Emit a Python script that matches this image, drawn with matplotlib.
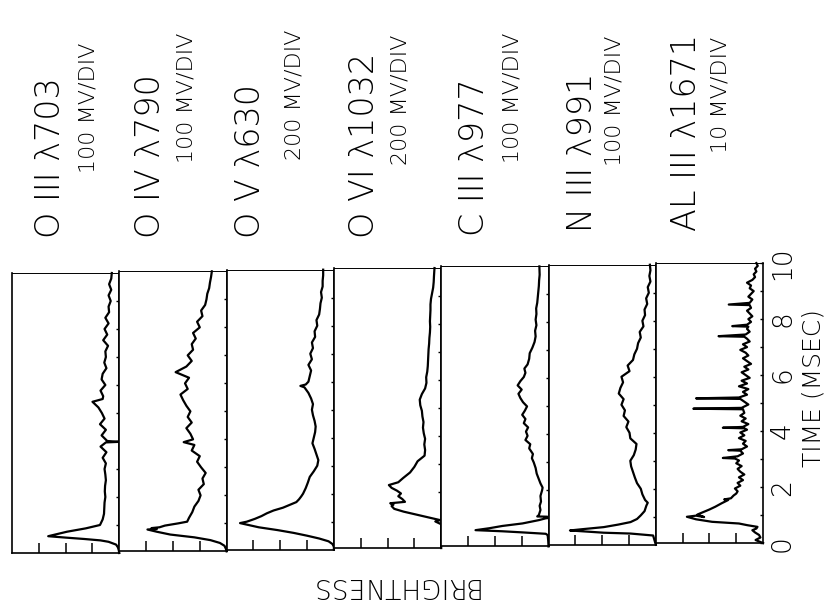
import matplotlib.pyplot as plt

W, H = 827, 608

# traces: (time in ms, brightness in divisions)
o3_703 = [(0, 0), (0.1, 0.02), (0.2, 0.05), (0.3, 0.12), (0.4, 0.4), (0.45, 0.7),
          (0.5, 1.3), (0.55, 2.0), (0.6, 2.65), (0.68, 2.3), (0.76, 1.95), (0.88, 1.25),
          (1.0, 0.72), (1.2, 0.62), (1.4, 0.57), (1.6, 0.56), (1.8, 0.55), (2.0, 0.52),
          (2.2, 0.54), (2.4, 0.53), (2.6, 0.5), (2.8, 0.52), (3.0, 0.55), (3.2, 0.5),
          (3.4, 0.62), (3.6, 0.48), (3.8, 0.7), (3.95, 0.5), (3.97, 0.0), (4.0, 0.45),
          (4.2, 0.66), (4.4, 0.5), (4.6, 0.72), (4.8, 0.55), (5.0, 0.65), (5.2, 0.78),
          (5.4, 1.0), (5.5, 0.62), (5.6, 0.6), (5.8, 0.7), (6.0, 0.52), (6.2, 0.66),
          (6.4, 0.62), (6.6, 0.48), (6.8, 0.56), (7.0, 0.5), (7.2, 0.52), (7.4, 0.42),
          (7.6, 0.6), (7.8, 0.45), (8.0, 0.55), (8.2, 0.4), (8.4, 0.52), (8.6, 0.38),
          (8.8, 0.4), (9.0, 0.32), (9.2, 0.4), (9.4, 0.3), (9.6, 0.38), (9.8, 0.3),
          (10.0, 0.28)]

o4_790 = [(0, 0), (0.1, 0.03), (0.2, 0.08), (0.3, 0.25), (0.4, 0.6), (0.5, 1.2),
          (0.6, 2.1), (0.7, 2.6), (0.78, 2.95), (0.8, 2.6), (0.83, 2.8), (0.86, 2.5),
          (0.92, 2.3), (1.0, 1.8), (1.06, 1.47), (1.2, 1.4), (1.4, 1.28), (1.6, 1.2),
          (1.8, 1.05), (2.0, 0.97), (2.2, 1.05), (2.4, 0.85), (2.6, 0.9), (2.8, 0.78),
          (3.0, 0.95), (3.2, 1.1), (3.4, 1.0), (3.6, 1.3), (3.8, 1.2), (3.9, 1.6),
          (4.0, 1.25), (4.2, 1.35), (4.4, 1.5), (4.6, 1.3), (4.8, 1.45), (5.0, 1.35),
          (5.2, 1.5), (5.4, 1.62), (5.6, 1.72), (5.8, 1.45), (6.0, 1.55), (6.2, 1.4),
          (6.4, 1.9), (6.6, 1.5), (6.8, 1.3), (7.0, 1.45), (7.2, 1.25), (7.4, 1.3),
          (7.6, 1.15), (7.8, 1.25), (8.0, 1.0), (8.2, 1.1), (8.4, 0.9), (8.6, 0.95),
          (8.8, 0.8), (9.0, 0.75), (9.2, 0.72), (9.4, 0.65), (9.6, 0.62), (9.8, 0.58),
          (10.0, 0.55)]

o5_630 = [(0, 0), (0.1, 0.0), (0.2, 0.05), (0.3, 0.2), (0.4, 0.55), (0.5, 1.0),
          (0.6, 1.5), (0.7, 2.1), (0.8, 2.8), (0.95, 3.5), (1.0, 3.25), (1.1, 2.95),
          (1.2, 2.7), (1.3, 2.5), (1.4, 2.25), (1.5, 1.9), (1.6, 1.65), (1.7, 1.4),
          (1.8, 1.3), (1.9, 1.22), (2.0, 1.15), (2.2, 1.05), (2.4, 0.97), (2.6, 0.9),
          (2.8, 0.75), (3.0, 0.62), (3.2, 0.58), (3.4, 0.65), (3.6, 0.72), (3.8, 0.8),
          (4.0, 0.75), (4.2, 0.7), (4.4, 0.68), (4.6, 0.72), (4.8, 0.78), (5.0, 0.82),
          (5.2, 0.78), (5.4, 0.85), (5.6, 0.95), (5.8, 1.1), (5.85, 1.25), (5.9, 1.05),
          (6.0, 0.95), (6.2, 0.9), (6.4, 0.85), (6.6, 0.95), (6.8, 0.82), (7.0, 0.88),
          (7.2, 0.78), (7.4, 0.82), (7.6, 0.7), (7.8, 0.72), (8.0, 0.62), (8.2, 0.65),
          (8.4, 0.55), (8.6, 0.52), (8.8, 0.5), (9.0, 0.45), (9.2, 0.48), (9.4, 0.42),
          (9.6, 0.42), (9.8, 0.4), (10.0, 0.4)]

o6_1032 = [(0, 0), (0.5, 0), (0.85, 0), (0.95, 0.22), (1.0, 0.05), (1.1, 0.5),
           (1.2, 0.95), (1.3, 1.4), (1.4, 1.75), (1.5, 1.85), (1.55, 1.78), (1.6, 1.9),
           (1.65, 1.35), (1.75, 1.45), (1.85, 1.6), (1.95, 1.5), (2.05, 1.65), (2.15, 1.85),
           (2.25, 1.95), (2.35, 1.6), (2.5, 1.42), (2.7, 1.16), (2.9, 1.0), (3.1, 0.88),
           (3.3, 0.62), (3.5, 0.6), (3.7, 0.63), (3.9, 0.6), (4.1, 0.65), (4.3, 0.68),
           (4.5, 0.66), (4.7, 0.7), (4.9, 0.72), (5.1, 0.78), (5.3, 0.8), (5.5, 0.72),
           (5.7, 0.6), (5.9, 0.55), (6.1, 0.56), (6.3, 0.52), (6.5, 0.5), (6.7, 0.49),
           (6.9, 0.48), (7.1, 0.47), (7.3, 0.45), (7.5, 0.44), (7.7, 0.42), (7.9, 0.41),
           (8.1, 0.42), (8.3, 0.41), (8.5, 0.4), (8.7, 0.4), (8.9, 0.38), (9.1, 0.34),
           (9.3, 0.3), (9.5, 0.28), (9.7, 0.27), (10.0, 0.25)]

c3_977 = [(0, 0), (0.2, 0.01), (0.4, 0.03), (0.45, 0.1), (0.5, 0.97), (0.54, 1.72),
          (0.58, 2.72), (0.65, 2.2), (0.73, 1.72), (0.82, 0.97), (0.94, 0.35), (1.02, 0.04),
          (1.06, 0.04), (1.07, 0.42), (1.12, 0.36), (1.3, 0.3), (1.45, 0.33), (1.6, 0.28),
          (1.8, 0.3), (2.0, 0.24), (2.1, 0.22), (2.25, 0.3), (2.4, 0.36), (2.6, 0.44),
          (2.8, 0.48), (3.0, 0.55), (3.15, 0.62), (3.3, 0.58), (3.5, 0.72), (3.65, 0.68),
          (3.8, 0.86), (3.95, 0.78), (4.1, 0.84), (4.25, 0.76), (4.4, 0.92), (4.55, 0.86),
          (4.7, 0.98), (4.85, 0.88), (5.0, 0.8), (5.15, 0.95), (5.3, 1.05), (5.45, 1.12),
          (5.6, 1.0), (5.75, 1.15), (5.9, 1.05), (6.05, 0.92), (6.2, 0.86), (6.35, 0.9),
          (6.5, 0.78), (6.7, 0.72), (6.9, 0.7), (7.1, 0.6), (7.3, 0.52), (7.5, 0.48),
          (7.7, 0.5), (7.9, 0.45), (8.1, 0.48), (8.3, 0.45), (8.5, 0.46), (8.7, 0.42),
          (8.9, 0.4), (9.1, 0.38), (9.3, 0.36), (9.5, 0.35), (9.7, 0.33), (10.0, 0.34)]

n3_991 = [(0, 0), (0.1, 0.03), (0.2, 0.06), (0.33, 0.1), (0.4, 0.94), (0.43, 1.94),
          (0.51, 3.2), (0.55, 2.8), (0.63, 1.94), (0.72, 1.4), (0.81, 0.94), (0.92, 0.7),
          (1.05, 0.56), (1.2, 0.42), (1.4, 0.35), (1.5, 0.3), (1.6, 0.4), (1.8, 0.5),
          (2.0, 0.56), (2.2, 0.7), (2.4, 0.78), (2.6, 0.85), (2.8, 0.92), (3.0, 0.95),
          (3.2, 0.82), (3.4, 0.75), (3.6, 0.72), (3.8, 0.95), (4.0, 0.98), (4.2, 1.1),
          (4.4, 1.02), (4.6, 1.2), (4.8, 1.15), (5.0, 1.28), (5.2, 1.2), (5.4, 1.38),
          (5.6, 1.32), (5.8, 1.22), (6.0, 1.28), (6.2, 0.98), (6.4, 1.05), (6.6, 0.85),
          (6.8, 0.8), (7.0, 0.7), (7.2, 0.66), (7.4, 0.56), (7.6, 0.6), (7.8, 0.46),
          (8.0, 0.5), (8.2, 0.4), (8.4, 0.42), (8.6, 0.32), (8.8, 0.36), (9.0, 0.26),
          (9.2, 0.3), (9.4, 0.2), (9.6, 0.24), (9.8, 0.2), (10.0, 0.22)]

al3_1671 = [(0, 0), (0.11, 0.28), (0.2, 0.1), (0.29, 0.15), (0.38, 0.3), (0.46, 0.4),
            (0.52, 0.25), (0.58, 0.21), (0.64, 0.59), (0.7, 0.9), (0.76, 1.9), (0.85, 2.5),
            (0.94, 2.84), (0.98, 2.5), (0.93, 2.2), (1.02, 2.45), (1.08, 2.3), (1.2, 2.0),
            (1.3, 1.78), (1.42, 1.55), (1.54, 1.3), (1.56, 1.45), (1.6, 1.2), (1.7, 1.1),
            (1.77, 1.0), (1.85, 0.95), (1.95, 1.05), (2.05, 0.85), (2.15, 0.95), (2.25, 0.75),
            (2.35, 0.9), (2.45, 0.7), (2.55, 0.85), (2.65, 0.95), (2.75, 0.8), (2.85, 1.0),
            (2.95, 0.9), (3.02, 1.05), (3.04, 1.5), (3.1, 0.95), (3.2, 0.75), (3.3, 0.85),
            (3.32, 1.3), (3.35, 0.8), (3.45, 0.6), (3.55, 0.75), (3.65, 0.65), (3.75, 0.9),
            (3.85, 0.7), (3.95, 0.85), (4.05, 0.6), (4.1, 0.7), (4.12, 1.5), (4.15, 0.75),
            (4.25, 0.55), (4.35, 0.8), (4.45, 0.65), (4.55, 0.85), (4.65, 0.7), (4.78, 0.75),
            (4.8, 2.6), (4.83, 0.8), (4.95, 0.55), (5.05, 0.7), (5.15, 0.85), (5.17, 2.5),
            (5.2, 0.9), (5.3, 0.6), (5.4, 0.75), (5.5, 0.55), (5.6, 0.9), (5.7, 0.6),
            (5.8, 0.8), (5.9, 0.5), (6.0, 0.65), (6.1, 0.8), (6.2, 0.55), (6.3, 0.7),
            (6.4, 0.45), (6.5, 0.6), (6.6, 0.75), (6.7, 0.55), (6.8, 0.65), (6.9, 0.85),
            (7.0, 0.6), (7.1, 0.75), (7.2, 0.5), (7.3, 0.6), (7.37, 0.7), (7.39, 1.66),
            (7.45, 0.65), (7.55, 0.5), (7.65, 0.6), (7.73, 0.55), (7.75, 1.15), (7.8, 0.6),
            (7.9, 0.45), (8.0, 0.55), (8.1, 0.4), (8.2, 0.5), (8.3, 0.6), (8.4, 0.45),
            (8.5, 0.5), (8.52, 1.28), (8.58, 0.5), (8.7, 0.4), (8.8, 0.55), (8.9, 0.45),
            (9.0, 0.35), (9.1, 0.5), (9.2, 0.45), (9.3, 0.6), (9.4, 0.4), (9.5, 0.3),
            (9.6, 0.35), (9.7, 0.25), (9.8, 0.3), (9.9, 0.2), (10.0, 0.25)]

traces = [o3_703, o4_790, o5_630, o6_1032, c3_977, n3_991, al3_1671]
lines = ["O III λ703", "O IV λ790", "O V λ630", "O VI λ1032",
         "C III λ977", "N III λ991", "AL III λ1671"]
scales = ["100 MV/DIV", "100 MV/DIV", "200 MV/DIV", "200 MV/DIV",
          "100 MV/DIV", "100 MV/DIV", "10 MV/DIV"]
time_ticks = [0, 2, 4, 6, 8, 10]

# layout in pixels of the scan (x from left, y from top)
line_x = [51, 151, 251, 365, 475, 583, 686]
line_y = [238, 238, 238, 238, 236, 232, 231]
scale_x = [88, 187, 294, 400, 512, 615, 720]
scale_y = [108, 98, 95, 100, 98, 101, 95]

plt.rcParams['font.family'] = 'DejaVu Sans'
fig = plt.figure(figsize=(W / 100, H / 100), dpi=100)


def fx(x):
    return x / W


def fy(y):
    return 1 - y / H


pw, ph = 107.3, 280
for i, tr in enumerate(traces):
    left = 12 + i * pw
    bottom = 553 - i * 1.65   # the scan is a little tilted
    ax = fig.add_axes([fx(left), fy(bottom), pw / W, ph / H])
    t = [p[0] for p in tr]
    b = [p[1] for p in tr]
    ax.plot(b, t, color='k', lw=1.6, solid_joinstyle='round', clip_on=False)
    ax.set_xlim(4, 0)
    ax.set_ylim(0, 10)
    ax.set_xticks([1, 2, 3])
    ax.tick_params(axis='x', direction='in', length=7.5, width=1.1,
                   labelbottom=False)
    ax.yaxis.tick_right()
    if i == len(traces) - 1:
        ax.set_yticks(range(0, 11))
        ax.set_yticklabels([str(v) if v in time_ticks else '' for v in range(0, 11)])
        ax.tick_params(axis='y', direction='in', length=2.5, width=1,
                       labelsize=19, pad=5)
        for lbl in ax.get_yticklabels():
            lbl.set_rotation(90)
            lbl.set_va('center')
            lbl.set_fontweight('light')
    else:
        ax.set_yticks(range(1, 10))
        ax.tick_params(axis='y', direction='in', length=2.5, width=1,
                       labelright=False)
    for side in ['left', 'right', 'bottom']:
        ax.spines[side].set_linewidth(1.2)
    ax.spines['top'].set_linewidth(0.7)

    fig.text(fx(line_x[i]), fy(line_y[i]), lines[i], rotation=90,
             ha='center', va='bottom', fontsize=24, fontweight='light')
    fig.text(fx(scale_x[i]), fy(scale_y[i]), scales[i], rotation=90,
             ha='center', va='center', fontsize=16, fontweight='light')

fig.text(fx(813), fy(388), "TIME (MSEC)", rotation=90, ha='center',
         va='center', fontsize=18, fontweight='light')
fig.text(fx(393), fy(586), "BRIGHTNESS", rotation=180, ha='center',
         va='center', fontsize=19, fontweight='light')

fig.savefig("out.png", dpi=100)
